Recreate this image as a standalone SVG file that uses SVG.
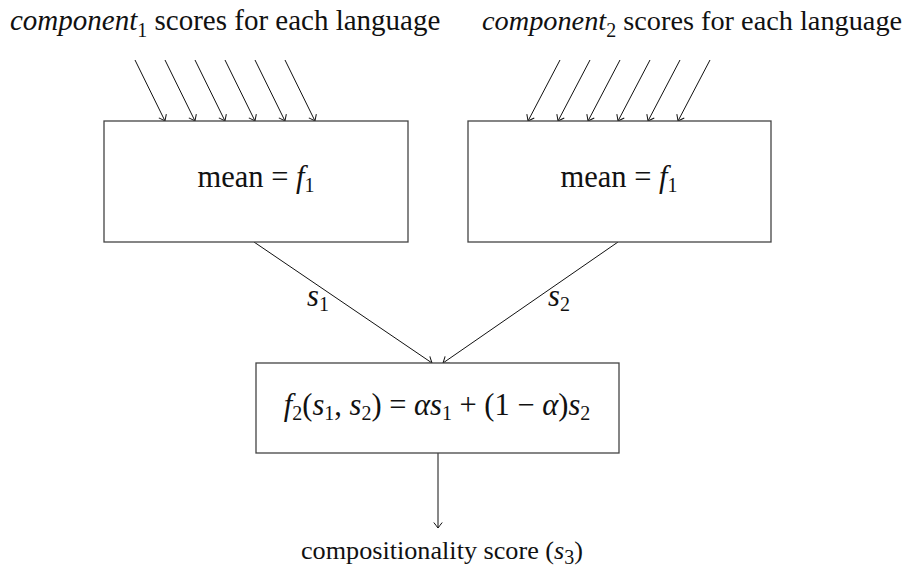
<svg xmlns="http://www.w3.org/2000/svg" width="918" height="569" viewBox="0 0 918 569">
<defs>
<style>
text{font-family:"Liberation Serif","Times New Roman",serif;font-size:29px;fill:#111}
.i{font-style:italic}
.sub{font-size:20px}
.m{font-size:30.5px}
.o{font-size:26.2px}
.r{font-size:28.3px}
.box{fill:#fff;stroke:#444;stroke-width:1.3}
.edge{stroke:#111;stroke-width:1;fill:none;marker-end:url(#tip)}
</style>
<marker id="tip" markerUnits="userSpaceOnUse" markerWidth="12" markerHeight="12" refX="0" refY="0" viewBox="-7 -6 8 12" orient="auto" overflow="visible">
<path d="M-5.5,-4.2 Q-1.8,-1.3 0,0 Q-1.8,1.3 -5.5,4.2" fill="none" stroke="#111" stroke-width="1"/>
</marker>
</defs>
<g id="label-top-left"><text x="10" y="30"><tspan class="i">component</tspan><tspan class="sub" dy="7">1</tspan><tspan dy="-7"> scores for each language</tspan></text></g>
<g id="label-top-right"><text class="r" x="482" y="30"><tspan class="i">component</tspan><tspan class="sub" dy="7">2</tspan><tspan dy="-7"> scores for each language</tspan></text></g>
<g id="connectors">
<line class="edge" x1="135" y1="60" x2="165" y2="121"/>
<line class="edge" x1="165" y1="60" x2="195" y2="121"/>
<line class="edge" x1="195" y1="60" x2="225" y2="121"/>
<line class="edge" x1="225" y1="60" x2="255" y2="121"/>
<line class="edge" x1="255" y1="60" x2="285" y2="121"/>
<line class="edge" x1="285" y1="60" x2="315" y2="121"/>
<line class="edge" x1="560" y1="60" x2="528" y2="121"/>
<line class="edge" x1="590" y1="60" x2="558" y2="121"/>
<line class="edge" x1="620" y1="60" x2="588" y2="121"/>
<line class="edge" x1="650" y1="60" x2="618" y2="121"/>
<line class="edge" x1="680" y1="60" x2="648" y2="121"/>
<line class="edge" x1="710" y1="60" x2="678" y2="121"/>
<line class="edge" x1="254" y1="242" x2="432" y2="363"/>
<line class="edge" x1="618" y1="242" x2="443" y2="363"/>
<line class="edge" x1="438" y1="453" x2="438" y2="528"/>
<text class="m" x="307" y="306"><tspan class="i">s</tspan><tspan class="sub" dy="5">1</tspan></text>
<text class="m" x="548" y="306"><tspan class="i">s</tspan><tspan class="sub" dy="5">2</tspan></text>
</g>
<g id="node-mean1">
<rect class="box" x="104" y="121" width="304" height="121"/>
<text class="m" x="256" y="187" text-anchor="middle">mean = <tspan class="i">f</tspan><tspan class="sub" dy="5">1</tspan></text>
</g>
<g id="node-mean2">
<rect class="box" x="468" y="121" width="303" height="121"/>
<text class="m" x="619" y="187" text-anchor="middle">mean = <tspan class="i">f</tspan><tspan class="sub" dy="5">1</tspan></text>
</g>
<g id="node-f2">
<rect class="box" x="256" y="363" width="363" height="90"/>
<text class="m" x="437" y="415" text-anchor="middle"><tspan class="i">f</tspan><tspan class="sub" dy="5">2</tspan><tspan dy="-5">(</tspan><tspan class="i">s</tspan><tspan class="sub" dy="5">1</tspan><tspan dy="-5">, </tspan><tspan class="i">s</tspan><tspan class="sub" dy="5">2</tspan><tspan dy="-5">) = </tspan><tspan class="i">αs</tspan><tspan class="sub" dy="5">1</tspan><tspan dy="-5"> + (1 − </tspan><tspan class="i">α</tspan><tspan>)</tspan><tspan class="i">s</tspan><tspan class="sub" dy="5">2</tspan></text>
</g>
<g id="label-output"><text class="o" x="442" y="559" text-anchor="middle">compositionality score (<tspan class="i">s</tspan><tspan class="sub" dy="5">3</tspan><tspan dy="-5">)</tspan></text></g>
</svg>
